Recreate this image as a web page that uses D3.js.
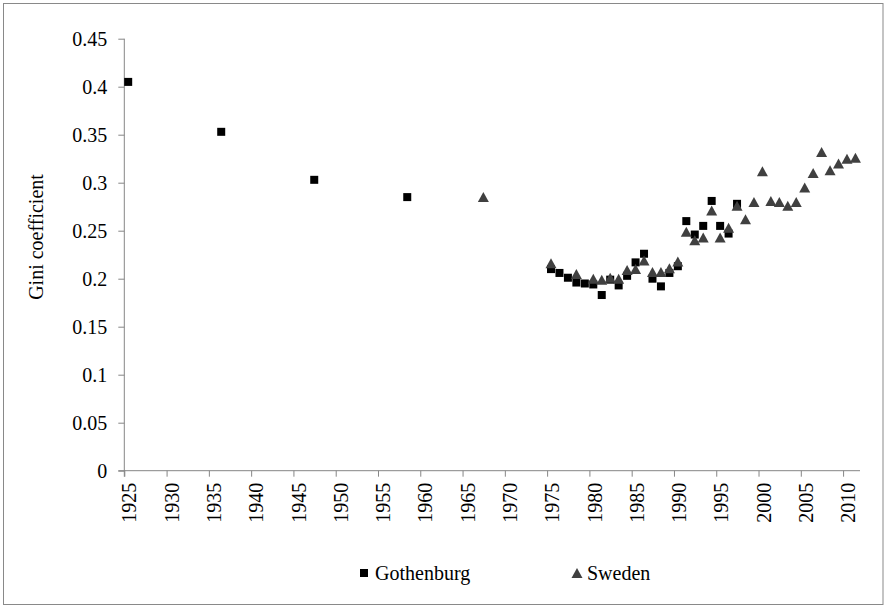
<!DOCTYPE html>
<html lang="en">
<head>
    <meta charset="UTF-8">
    <title>Gini coefficient, Gothenburg and Sweden</title>
    <script src="https://d3js.org/d3.v7.min.js"></script>
    <style>
        body {
            margin: 0;
            background: #fff;
        }
        svg {
            display: block;
        }
        svg text {
            font-family: "Liberation Serif", "DejaVu Serif", serif;
        }
        .axis path, .axis line {
            stroke: #868686;
        }
        .axis text {
            font-size: 20px;
            fill: #000;
        }
    </style>
</head>
<body>
<script>
    // Gothenburg
    const gothYears = [1925, 1936, 1947, 1958,
        1975, 1976, 1977, 1978, 1979, 1980, 1981, 1982, 1983, 1984, 1985, 1986,
        1987, 1988, 1989, 1990, 1991, 1992, 1993, 1994, 1995, 1996, 1997];
    const gothValues = [0.405, 0.353, 0.303, 0.285,
        0.210, 0.206, 0.201, 0.196, 0.195, 0.194, 0.183, 0.199, 0.193, 0.203, 0.217, 0.226,
        0.200, 0.192, 0.206, 0.213, 0.260, 0.246, 0.255, 0.281, 0.255, 0.247, 0.278];

    // Sweden
    const sweYears = [1967, 1975, 1978,
        1980, 1981, 1982, 1983, 1984, 1985, 1986, 1987, 1988, 1989, 1990,
        1991, 1992, 1993, 1994, 1995, 1996, 1997, 1998, 1999, 2000,
        2001, 2002, 2003, 2004, 2005, 2006, 2007, 2008, 2009, 2010, 2011];
    const sweValues = [0.285, 0.216, 0.205,
        0.200, 0.199, 0.201, 0.200, 0.209, 0.210, 0.219, 0.207, 0.207, 0.211, 0.218,
        0.249, 0.240, 0.243, 0.271, 0.243, 0.253, 0.276, 0.262, 0.280, 0.312,
        0.281, 0.280, 0.276, 0.280, 0.295, 0.310, 0.332, 0.313, 0.320, 0.325, 0.326];

    const xTicks = [1925, 1930, 1935, 1940, 1945, 1950, 1955, 1960, 1965, 1970,
        1975, 1980, 1985, 1990, 1995, 2000, 2005, 2010];
    const yTicks = [0, 0.05, 0.1, 0.15, 0.2, 0.25, 0.3, 0.35, 0.4, 0.45];
    const yTickLabels = ["0", "0.05", "0.1", "0.15", "0.2", "0.25", "0.3", "0.35", "0.4", "0.45"];

    const w = 885;
    const h = 607;

    const svg = d3.select("body")
        .append("svg")
        .attr("width", w)
        .attr("height", h);

    // chart frame
    svg.append("rect")
        .attr("x", 3.5)
        .attr("y", 3.5)
        .attr("width", 879.5)
        .attr("height", 601)
        .attr("fill", "#fff")
        .attr("stroke", "#898989");

    const xScale = d3.scaleLinear()
        .domain([1925, 2012])
        .range([124.3, 860]);

    const yScale = d3.scaleLinear()
        .domain([0, 0.45])
        .range([470.7, 38.7]);

    // observations sit at mid-year
    const xPos = yr => xScale(yr + 0.46);

    // y axis
    const yAxis = d3.axisLeft(yScale)
        .tickValues(yTicks)
        .tickFormat((d, i) => yTickLabels[i])
        .tickSize(6)
        .tickPadding(11)
        .tickSizeOuter(0);

    svg.append("g")
        .attr("class", "axis")
        .attr("transform", `translate(${xScale(1925)}, 0)`)
        .call(yAxis)
        .call(g => g.select(".domain").attr("d", `M0,${yScale(0.45)}V${yScale(0) + 6}`));

    // x axis
    const xAxis = d3.axisBottom(xScale)
        .tickValues(xTicks)
        .tickFormat(d3.format("d"))
        .tickSize(6)
        .tickSizeOuter(0);

    svg.append("g")
        .attr("class", "axis")
        .attr("transform", `translate(0, ${yScale(0)})`)
        .call(xAxis)
        .call(g => g.select(".domain").attr("d", `M${xScale(1925) - 6},0H${xScale(2012)}`))
        .call(g => g.selectAll(".tick text")
            .attr("text-anchor", "end")
            .attr("transform", "rotate(-90)")
            .attr("x", -12)
            .attr("y", 0)
            .attr("dy", "0.58em"));

    // y axis title
    svg.append("text")
        .attr("transform", "translate(43, 237) rotate(-90)")
        .attr("text-anchor", "middle")
        .attr("font-size", "20px")
        .text("Gini coefficient");

    const triangle = "M0,-5L5.5,5L-5.5,5Z";

    const goth = gothYears.map((yr, i) => ({ year: yr, value: gothValues[i] }));
    const swe = sweYears.map((yr, i) => ({ year: yr, value: sweValues[i] }));

    svg.append("g")
        .selectAll("rect")
        .data(goth)
        .enter()
        .append("rect")
        .attr("x", d => xPos(d.year) - 4)
        .attr("y", d => yScale(d.value) - 4)
        .attr("width", 8)
        .attr("height", 8)
        .attr("fill", "#000");

    svg.append("g")
        .selectAll("path")
        .data(swe)
        .enter()
        .append("path")
        .attr("d", triangle)
        .attr("transform", d => `translate(${xPos(d.year)}, ${yScale(d.value)})`)
        .attr("fill", "#404040");

    // legend
    const legend = svg.append("g").attr("font-size", "20px");

    legend.append("rect")
        .attr("x", 360)
        .attr("y", 569)
        .attr("width", 8)
        .attr("height", 8)
        .attr("fill", "#000");
    legend.append("text")
        .attr("x", 375)
        .attr("y", 580)
        .text("Gothenburg");

    legend.append("path")
        .attr("d", triangle)
        .attr("transform", "translate(577, 573)")
        .attr("fill", "#404040");
    legend.append("text")
        .attr("x", 587)
        .attr("y", 580)
        .text("Sweden");
</script>
</body>
</html>
